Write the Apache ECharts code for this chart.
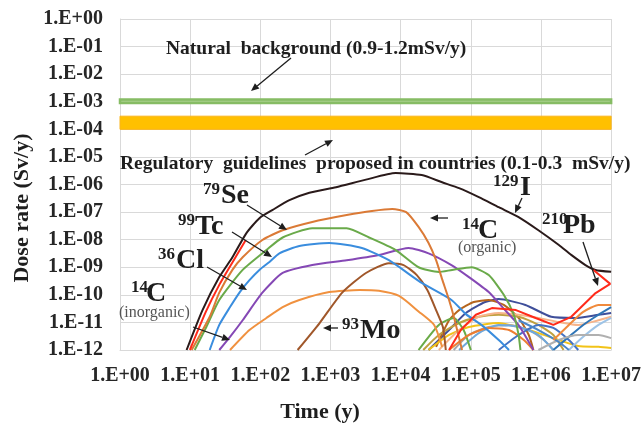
<!DOCTYPE html>
<html><head><meta charset="utf-8">
<script src="https://cdn.jsdelivr.net/npm/echarts/dist/echarts.min.js"></script>
<style>html,body{margin:0;padding:0;background:#fff}#c{width:644px;height:426px}</style>
</head><body><div id="c"></div>
<script>
// ---- tick labels ----
const xTickLabels = ['1.E+00','1.E+01','1.E+02','1.E+03','1.E+04','1.E+05','1.E+06','1.E+07'];
const yTickLabels = ['1.E-12','1.E-11','1.E-10','1.E-09','1.E-08','1.E-07','1.E-06','1.E-05','1.E-04','1.E-03','1.E-02','1.E-01','1.E+00'];
const xRange = [1, 1e7];
const yRange = [1e-12, 1];

// ---- reference bands (Sv/y) ----
const naturalBand = [0.9e-3, 1.2e-3];
const regulatoryBand = [1e-4, 3e-4];

// ---- named nuclide curves: time (y) / dose (Sv/y) ----
const tI129 = [8.9,15,26,40,63,97,150,260,500,1200,3200,8500,2e4,3.9e4,6.8e4,1.3e5,2.5e5,4.8e5,9.2e5,1.8e6,2.7e6,4.3e6,6e6,1e7];
const vI129 = [1e-12,2.8e-11,4.4e-10,2.3e-9,1.7e-8,6e-8,1.2e-7,2.7e-7,5e-7,8e-7,1.5e-6,2.6e-6,2.2e-6,1.2e-6,7.4e-7,3.5e-7,1.5e-7,6.6e-8,2.2e-8,6.4e-9,2.8e-9,1.2e-9,8e-10,6.8e-10];
const tC14org = [10.5,19,26,40,56,107,208,550,1700,3900,7600,1.2e4,1.8e4,2.5e4,3.2e4,3.9e4,4.9e4,5.9e4,7.5e4];
const vC14org = [1e-12,1.6e-11,1.2e-10,8e-10,2.3e-9,9.7e-9,2.2e-8,4.4e-8,7.8e-8,1.1e-7,1.3e-7,1e-7,2.9e-8,7.6e-9,1.8e-9,3.7e-10,6.5e-11,1.2e-11,1e-12];
const tSe79 = [11.6,17,26,56,122,208,550,1700,3550,8500,1.8e4,3.5e4,5.4e4,1.03e5,1.8e5,2.95e5,4.1e5,4.8e5,5.1e5];
const vSe79 = [1e-12,6.8e-12,6.5e-11,8e-10,4.2e-9,1.2e-8,2.6e-8,2.6e-8,1.2e-8,4.2e-9,1e-9,6.7e-10,8e-10,1e-9,5.2e-10,1e-10,1.9e-11,3.5e-12,1e-12];
const tTc99 = [19,26,37,51,70,97,135,187,360,960,2800,6800,2e4,5.3e4,8.5e4,1.43e5,2.5e5,3.5e5];
const vTc99 = [1e-12,8.1e-12,3.6e-11,1.26e-10,3.4e-10,8e-10,1.55e-9,3.2e-9,5.9e-9,7.6e-9,5e-9,1.8e-9,2.7e-10,6.5e-11,2e-11,8e-12,2.3e-12,1e-12];
const tCl36 = [26,37,56,107,208,550,1700,4900,1.3e4,2.5e4,5.3e4,9.4e4,1.8e5,2.9e5,4.8e5,7.8e5];
const vCl36 = [1e-12,3e-12,1.2e-11,1.2e-10,6.2e-10,1.2e-9,1.8e-9,2.8e-9,5e-9,3.2e-9,1.2e-9,4.4e-10,1.26e-10,3.3e-11,8e-12,1e-12];
const tC14inorg = [37,70,122,208,360,960,2600,4900,9500,1.8e4,3e4,3.9e4];
const vC14inorg = [1e-12,5.3e-12,1.45e-11,3.6e-11,6.5e-11,1.26e-10,1.5e-10,1.4e-10,9.1e-11,2.5e-11,8.1e-12,1.3e-12];
const tMo93 = [340,700,1470,3200,6800,1.1e4,1.7e4,2.4e4,3.2e4,4e4,4.4e4];
const vMo93 = [1e-12,9.5e-12,1.2e-10,6.2e-10,1.4e-9,1.2e-9,5.2e-10,1.5e-10,2.8e-11,6.8e-12,1e-12];
const tRedEarly = [9.9,16.7,26,40,62];
const vRedEarly = [1e-12,2.4e-11,2.3e-10,1.5e-9,9.7e-9];
const tPb210 = [4.9e4,7.2e4,1.18e5,2e5,4.4e5,8.4e5,1.5e6,2.7e6,6e6,9.7e6,5.6e6];
const vPb210 = [1e-12,5.3e-12,1.9e-11,3.3e-11,2.8e-11,1.45e-11,8.1e-12,1.6e-11,1.16e-10,2.5e-10,8e-10];

// ---- other nuclides (low cluster) ----
const tNavy = [2.5e4,4.9e4,8.5e4,1.6e5,2.5e5,6e5,1.4e6,3.1e6,6.6e6,1e7];
const vNavy = [1e-12,5.3e-12,2.2e-11,5.5e-11,7e-11,4.3e-11,1.6e-11,1.45e-11,1.9e-11,2.2e-11];
const tDkOrange = [3.2e4,4.9e4,6.8e4,1.1e5,1.8e5,2.95e5,4.8e5,6.7e5,7.8e5];
const vDkOrange = [1.3e-12,1.2e-11,2.8e-11,5.5e-11,6.5e-11,4.3e-11,1.45e-11,3.5e-12,1e-12];
const tTan = [2.1e4,3.5e4,6.8e4,1.3e5,2.5e5,4.8e5,9.2e5,1.5e6,2.1e6];
const vTan = [1e-12,3.5e-12,9.5e-12,1.6e-11,1.9e-11,1.6e-11,8.1e-12,3.5e-12,1e-12];
const tYellow = [2.5e4,4.9e4,9.4e4,2.5e5,6.7e5,1.8e6,3.4e6,6.6e6,1e7];
const vYellow = [1e-12,3.5e-12,6.8e-12,9.5e-12,5.3e-12,2.3e-12,1.4e-12,1.3e-12,1.18e-12];
const tPeach = [3.5e4,6.8e4,1.3e5,2.5e5,4.8e5,9.2e5,1.8e6,3.4e6,6.6e6,1e7];
const vPeach = [1e-12,5.3e-12,1.6e-11,2.2e-11,1.9e-11,1.45e-11,1.03e-11,8.1e-12,1.2e-11,1.6e-11];
const tGray = [5.7e4,9.4e4,1.8e5,3.5e5,6.7e5,1.1e6,1.5e6];
const vGray = [1e-12,3.5e-12,6.8e-12,8.1e-12,5.3e-12,2.3e-12,1e-12];
const tLtBlue = [6.8e4,1.3e5,2.5e5,4.8e5,9.2e5,1.5e6];
const vLtBlue = [1e-12,4.1e-12,8.1e-12,6.8e-12,3.5e-12,1e-12];
const tGreen2 = [1.8e4,3.5e4,5.7e4,7.9e4,1e5];
const vGreen2 = [1e-12,8.1e-12,1.45e-11,5.3e-12,1e-12];
const tOrange3 = [4.9e4,9.4e4,1.8e5,3.5e5,5.7e5,7.8e5];
const vOrange3 = [1e-12,3.5e-12,6.3e-12,5.3e-12,2.3e-12,1e-12];
const tBlueA = [2.5e5,4.8e5,9.2e5,1.5e6,2.5e6,3.4e6];
const vBlueA = [1e-12,3.5e-12,8.1e-12,6.3e-12,2.3e-12,1e-12];
const tBlueB = [1.5e6,2.5e6,4e6,6.6e6,1e7];
const vBlueB = [1e-12,3e-12,8.1e-12,1.9e-11,3.6e-11];
const tLtBlueC = [2.5e6,4e6,6.6e6,1e7];
const vLtBlueC = [1e-12,3e-12,8.1e-12,1.45e-11];
const tGrayD = [9.2e5,1.8e6,3.4e6,6.6e6,1e7];
const vGrayD = [1e-12,2.3e-12,3.5e-12,3.5e-12,2.7e-12];
const tBlueE = [4.8e5,9.2e5,1.8e6,2.5e6];
const vBlueE = [1.2e-11,5.3e-12,1.95e-12,1e-12];
const tOrangeG = [1.5e6,2.5e6,4e6,6.6e6,1e7];
const vOrangeG = [2.3e-12,8.1e-12,2.4e-11,4.3e-11,4.3e-11];

const zip = (t, v) => t.map((x, i) => [x, v[i]]);
function curve(name, t, v, color, opts) {
  return Object.assign({
    name, type: 'line', data: zip(t, v), symbol: 'none', smooth: 0.2,
    lineStyle: { color, width: 2 }, itemStyle: { color }, silent: true, z: 3
  }, opts || {});
}

const INK = '#1e1e1e';
const SERIF = '"Liberation Serif", "Times New Roman", serif';
function txt(x, y, text, font, fill, align) {
  return { type: 'text', x, y, z: 100, style: { text, font, fill: fill || INK,
    align: align || 'left', verticalAlign: 'middle', textAlign: align || 'left', textVerticalAlign: 'middle' } };
}
function arrow(x1, y1, x2, y2) {
  const dx = x2 - x1, dy = y2 - y1, L = Math.hypot(dx, dy), ux = dx / L, uy = dy / L;
  const hl = 8, hw = 3.5, bx = x2 - ux * hl, by = y2 - uy * hl;
  return [
    { type: 'line', z: 100, shape: { x1, y1, x2: bx, y2: by }, style: { stroke: INK, lineWidth: 1.3 } },
    { type: 'polygon', z: 100, shape: { points: [[x2, y2], [bx - uy * hw, by + ux * hw], [bx + uy * hw, by - ux * hw]] }, style: { fill: INK } }
  ];
}
const BIG = 'bold 28px ' + SERIF, SUP = 'bold 17px ' + SERIF, NOTE = 'bold 19.5px ' + SERIF, SUB = '16px ' + SERIF;

const graphics = [].concat(
  [txt(166, 49, 'Natural  background (0.9-1.2mSv/y)', NOTE)],
  arrow(291, 58, 251, 91),
  [txt(120, 164, 'Regulatory  guidelines  proposed in countries (0.1-0.3  mSv/y)', NOTE)],
  arrow(305, 155, 333, 140),
  [txt(203, 190, '79', SUP), txt(221, 195.5, 'Se', BIG)],
  arrow(247, 205, 287, 230),
  [txt(178, 221, '99', SUP), txt(195, 226.5, 'Tc', BIG)],
  arrow(232, 232, 272, 257),
  [txt(158, 255, '36', SUP), txt(176, 260.5, 'Cl', BIG)],
  arrow(207, 267, 247, 290),
  [txt(131, 288, '14', SUP), txt(146, 293.5, 'C', BIG), txt(119, 313, '(inorganic)', SUB, '#555')],
  arrow(193, 327, 230, 340),
  [txt(342, 325, '93', SUP), txt(360, 330.5, 'Mo', BIG)],
  arrow(338, 328, 323, 328),
  [txt(462, 225, '14', SUP), txt(478, 230.5, 'C', BIG), txt(458, 248, '(organic)', SUB, '#555')],
  arrow(448, 218, 430, 218),
  [txt(493, 182, '129', SUP), txt(520, 187.5, 'I', BIG)],
  arrow(522, 198, 515, 213),
  [txt(542, 220, '210', SUP), txt(563, 225.5, 'Pb', BIG)],
  arrow(583, 242, 598, 286),
  [{ type: 'text', x: 22, y: 208, rotation: Math.PI / 2, z: 100,
     style: { text: 'Dose rate (Sv/y)', font: 'bold 22px ' + SERIF, fill: INK, align: 'center', verticalAlign: 'middle', textAlign: 'center', textVerticalAlign: 'middle' } },
   txt(320, 412, 'Time (y)', 'bold 22px ' + SERIF, INK, 'center')]
);

const axisLabelStyle = { fontFamily: SERIF, fontWeight: 'bold', fontSize: 20, color: '#262626' };

const option = {
  animation: false,
  backgroundColor: '#ffffff',
  grid: { left: 120, right: 31, top: 19, bottom: 76 },
  xAxis: {
    type: 'log', logBase: 10, min: xRange[0], max: xRange[1], splitNumber: 7, interval: 1,
    axisLine: { show: true, lineStyle: { color: '#d9d9d9' } }, axisTick: { show: false },
    splitLine: { show: true, lineStyle: { color: '#d9d9d9' } },
    axisLabel: Object.assign({ margin: 16, formatter: v => xTickLabels[Math.round(Math.log10(v))] }, axisLabelStyle)
  },
  yAxis: {
    type: 'log', logBase: 10, min: yRange[0], max: yRange[1], splitNumber: 12, interval: 1,
    axisLine: { show: true, lineStyle: { color: '#d9d9d9' } }, axisTick: { show: false },
    splitLine: { show: true, lineStyle: { color: '#d9d9d9' } },
    axisLabel: Object.assign({ margin: 17, showMinLabel: true, showMaxLabel: true, formatter: v => yTickLabels[Math.round(Math.log10(v)) + 12] }, axisLabelStyle)
  },
  graphic: graphics,
  series: [
    { name: 'bands', type: 'line', data: [], silent: true, z: 2,
      markArea: { silent: true, data: [
        [{ xAxis: xRange[0], yAxis: naturalBand[0], itemStyle: { color: '#A8D08D', borderColor: '#86BC64', borderWidth: 2.5 } },
         { xAxis: xRange[1], yAxis: naturalBand[1] }],
        [{ xAxis: xRange[0], yAxis: regulatoryBand[0], itemStyle: { color: '#FFC000', borderColor: '#FBB41A', borderWidth: 1 } },
         { xAxis: xRange[1], yAxis: regulatoryBand[1] }]
      ] } },
    curve('navy', tNavy, vNavy, '#3F4F9A'),
    curve('dkorange', tDkOrange, vDkOrange, '#B5651D'),
    curve('tan', tTan, vTan, '#BFA040'),
    curve('yellow', tYellow, vYellow, '#F2C318'),
    curve('peach', tPeach, vPeach, '#F6B48A'),
    curve('gray', tGray, vGray, '#A6A6A6'),
    curve('ltblue', tLtBlue, vLtBlue, '#6FA8DC'),
    curve('green2', tGreen2, vGreen2, '#6AAB47'),
    curve('orange3', tOrange3, vOrange3, '#ED7D31'),
    curve('blueA', tBlueA, vBlueA, '#4472C4'),
    curve('blueB', tBlueB, vBlueB, '#2E75B6'),
    curve('ltblueC', tLtBlueC, vLtBlueC, '#9DC3E6'),
    curve('grayD', tGrayD, vGrayD, '#B0B0B0'),
    curve('blueE', tBlueE, vBlueE, '#4A86C8'),
    curve('orangeG', tOrangeG, vOrangeG, '#F08A3C'),
    curve('14C (inorganic)', tC14inorg, vC14inorg, '#F0913F'),
    curve('93Mo', tMo93, vMo93, '#A0572A'),
    curve('36Cl', tCl36, vCl36, '#8548B5'),
    curve('99Tc', tTc99, vTc99, '#3A8DDE'),
    curve('79Se', tSe79, vSe79, '#6AAA4A'),
    curve('14C (organic)', tC14org, vC14org, '#DB7A36'),
    curve('red early', tRedEarly, vRedEarly, '#FF2A1A'),
    curve('129I', tI129, vI129, '#2a1a1a', { z: 4 }),
    curve('210Pb', tPb210, vPb210, '#FF2A1A', { smooth: false, z: 5 })
  ]
};
const chart = echarts.init(document.getElementById('c'), null, { renderer: 'canvas' });
chart.setOption(option);
</script></body></html>
